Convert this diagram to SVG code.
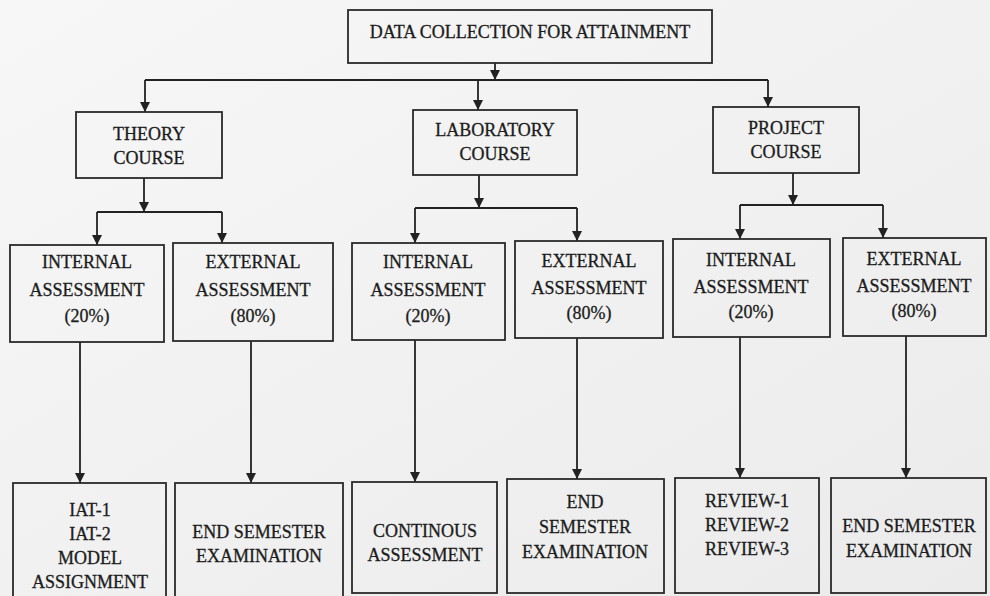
<svg xmlns="http://www.w3.org/2000/svg" width="990" height="596" viewBox="0 0 990 596">
<defs>
<linearGradient id="bg" x1="0" y1="0" x2="1" y2="1">
<stop offset="0" stop-color="#f7f7f7"/>
<stop offset="1" stop-color="#ebebeb"/>
</linearGradient>
<marker id="ah" markerUnits="userSpaceOnUse" markerWidth="10" markerHeight="10" refX="10" refY="5" orient="auto" viewBox="0 0 10 10">
<path d="M0,0 L10,5 L0,10 z" fill="#222"/>
</marker>
<style>
.box{fill:none;stroke:#2a2a2a;stroke-width:1.8}
text{font-family:'Liberation Serif','DejaVu Serif',serif;font-size:18px;fill:#1c1c1c;text-anchor:middle;stroke:#1c1c1c;stroke-width:0.3}
.c{fill:none;stroke:#222;stroke-width:1.8}
.a{fill:none;stroke:#222;stroke-width:1.8;marker-end:url(#ah)}
</style>
</defs>
<rect width="990" height="596" fill="url(#bg)"/>

<g id="connectors">
<line class="a" x1="495" y1="63" x2="495" y2="80"/>
<line class="c" x1="145" y1="80" x2="768" y2="80"/>
<line class="a" x1="145" y1="80" x2="145" y2="112"/>
<line class="a" x1="478" y1="80" x2="478" y2="110"/>
<line class="a" x1="768" y1="80" x2="768" y2="107"/>

<line class="a" x1="144" y1="178" x2="144" y2="212"/>
<line class="c" x1="97" y1="212" x2="222" y2="212"/>
<line class="a" x1="97" y1="212" x2="97" y2="245"/>
<line class="a" x1="222" y1="212" x2="222" y2="243"/>

<line class="a" x1="479" y1="175" x2="479" y2="208"/>
<line class="c" x1="415" y1="208" x2="577" y2="208"/>
<line class="a" x1="415" y1="208" x2="415" y2="243"/>
<line class="a" x1="577" y1="208" x2="577" y2="241"/>

<line class="a" x1="793" y1="173" x2="793" y2="205"/>
<line class="c" x1="740" y1="205" x2="883" y2="205"/>
<line class="a" x1="740" y1="205" x2="740" y2="239"/>
<line class="a" x1="883" y1="205" x2="883" y2="238"/>

<line class="a" x1="80" y1="342" x2="80" y2="483"/>
<line class="a" x1="251" y1="341" x2="251" y2="483"/>
<line class="a" x1="415" y1="340" x2="415" y2="482"/>
<line class="a" x1="577" y1="338" x2="577" y2="479"/>
<line class="a" x1="740" y1="337" x2="740" y2="478"/>
<line class="a" x1="906" y1="336" x2="906" y2="478"/>
</g>

<g id="root">
<rect class="box" x="348" y="10" width="364" height="53"/>
<text x="530" y="38">DATA COLLECTION FOR ATTAINMENT</text>
</g>

<g id="theory">
<rect class="box" x="76" y="112" width="146" height="66"/>
<text x="149" y="140">THEORY</text>
<text x="149" y="164">COURSE</text>
</g>
<g id="laboratory">
<rect class="box" x="413" y="110" width="164" height="65"/>
<text x="495" y="136">LABORATORY</text>
<text x="495" y="160">COURSE</text>
</g>
<g id="project">
<rect class="box" x="713" y="107" width="146" height="66"/>
<text x="786" y="134">PROJECT</text>
<text x="786" y="158">COURSE</text>
</g>

<g id="theory-internal">
<rect class="box" x="10" y="245" width="154" height="97"/>
<text x="87" y="268">INTERNAL</text>
<text x="87" y="296">ASSESSMENT</text>
<text x="87" y="322">(20%)</text>
</g>
<g id="theory-external">
<rect class="box" x="173" y="243" width="160" height="98"/>
<text x="253" y="268">EXTERNAL</text>
<text x="253" y="296">ASSESSMENT</text>
<text x="253" y="322">(80%)</text>
</g>
<g id="lab-internal">
<rect class="box" x="352" y="243" width="153" height="97"/>
<text x="428" y="268">INTERNAL</text>
<text x="428" y="296">ASSESSMENT</text>
<text x="428" y="322">(20%)</text>
</g>
<g id="lab-external">
<rect class="box" x="515" y="241" width="148" height="97"/>
<text x="589" y="267">EXTERNAL</text>
<text x="589" y="294">ASSESSMENT</text>
<text x="589" y="319">(80%)</text>
</g>
<g id="project-internal">
<rect class="box" x="673" y="239" width="157" height="98"/>
<text x="751" y="266">INTERNAL</text>
<text x="751" y="293">ASSESSMENT</text>
<text x="751" y="318">(20%)</text>
</g>
<g id="project-external">
<rect class="box" x="843" y="238" width="143" height="98"/>
<text x="914" y="265">EXTERNAL</text>
<text x="914" y="292">ASSESSMENT</text>
<text x="914" y="317">(80%)</text>
</g>

<g id="theory-internal-items">
<rect class="box" x="13" y="483" width="153" height="120"/>
<text x="90" y="516">IAT-1</text>
<text x="90" y="540">IAT-2</text>
<text x="90" y="564">MODEL</text>
<text x="90" y="588">ASSIGNMENT</text>
</g>
<g id="theory-external-items">
<rect class="box" x="175" y="483" width="168" height="120"/>
<text x="259" y="538">END SEMESTER</text>
<text x="259" y="562">EXAMINATION</text>
</g>
<g id="lab-internal-items">
<rect class="box" x="352" y="482" width="145" height="111"/>
<text x="425" y="537">CONTINOUS</text>
<text x="425" y="561">ASSESSMENT</text>
</g>
<g id="lab-external-items">
<rect class="box" x="507" y="479" width="157" height="114"/>
<text x="585" y="508">END</text>
<text x="585" y="533">SEMESTER</text>
<text x="585" y="558">EXAMINATION</text>
</g>
<g id="project-internal-items">
<rect class="box" x="675" y="478" width="144" height="115"/>
<text x="747" y="507">REVIEW-1</text>
<text x="747" y="531">REVIEW-2</text>
<text x="747" y="555">REVIEW-3</text>
</g>
<g id="project-external-items">
<rect class="box" x="831" y="478" width="155" height="115"/>
<text x="909" y="532">END SEMESTER</text>
<text x="909" y="557">EXAMINATION</text>
</g>
</svg>
